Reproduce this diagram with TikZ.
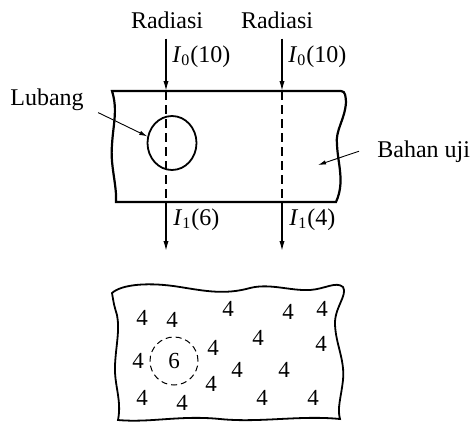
\documentclass[tikz,border=0pt]{standalone}
\usepackage{fontspec}
\setmainfont{Liberation Serif}
\usetikzlibrary{arrows.meta,shapes.geometric}
\begin{document}
\begin{tikzpicture}[x=0.5pt, y=-0.5pt,
  every node/.style={font=\fontsize{12}{14}\selectfont, inner sep=1pt},
  beam/.style={line width=0.7pt, -{Latex[length=5pt,width=2.6pt]}},
  pointer/.style={line width=0.45pt, -{Latex[length=4pt,width=2.2pt]}},
  num/.style={font=\fontsize{11.5}{13}\selectfont}]
  \useasboundingbox (0,0) rectangle (470,423);

  % specimen seen from the side
  \draw[line width=1.1pt] (112,91) -- (341,91) to[out=0,in=95] (346,102)
    .. controls (345,120) and (335,130) .. (337,145)
    .. controls (338,165) and (345,182) .. (336,202)
    -- (116,202)
    .. controls (117,185) and (110,165) .. (112,145)
    .. controls (113,125) and (118,110) .. (112,91) -- cycle;
  \node[draw, ellipse, line width=0.9pt, minimum width=24.5pt, minimum height=27pt,
        inner sep=0pt] (hole) at (172,143) {};

  % two beams
  \node[anchor=base] (rad1) at (167,28) {Radiasi};
  \node[anchor=base] (rad2) at (277,28) {Radiasi};
  \coordinate (in1) at (166,91);  \coordinate (out1) at (166,202);  \coordinate (end1) at (166,251);
  \coordinate (in2) at (282,91);  \coordinate (out2) at (282,202);  \coordinate (end2) at (282,251);
  \draw[beam] ([yshift=-4pt]rad1.south -| in1) -- (in1);
  \draw[beam] ([yshift=-4pt]rad2.south -| in2) -- (in2);
  \draw[line width=0.6pt, dash pattern=on 4.5pt off 2.5pt] (in1) -- (out1);
  \draw[line width=0.6pt, dash pattern=on 4.5pt off 2.5pt] (in2) -- (out2);
  \draw[beam] (out1) -- (end1);
  \draw[beam] (out2) -- (end2);
  \node[anchor=base west] (i0a) at (170,62) {\textit{I}\textsubscript{0}(10)};
  \node[anchor=base west] (i0b) at (286,62) {\textit{I}\textsubscript{0}(10)};
  \node[anchor=base west] (i1a) at (171,225) {\textit{I}\textsubscript{1}(6)};
  \node[anchor=base west] (i1b) at (287,225) {\textit{I}\textsubscript{1}(4)};

  % labels with pointers
  \node[anchor=base west] (lubang) at (8,105) {Lubang};
  \draw[pointer] ([xshift=6pt]lubang.south east) -- (hole.165);
  \node[anchor=base west] (bahan) at (375,157) {Bahan uji};
  \coordinate (mat) at (318,165);
  \draw[pointer] ([xshift=-8pt]bahan.west) -- (mat);

  % film image
  \draw[line width=0.9pt] (112,293)
    .. controls (122,284) and (150,282) .. (180,287)
    .. controls (205,291) and (225,295) .. (250,288)
    .. controls (270,283) and (290,291) .. (310,290)
    .. controls (325,289) and (336,281) .. (343,287)
    .. controls (348,295) and (334,308) .. (335,325)
    .. controls (336,345) and (345,360) .. (343,380)
    .. controls (341,398) and (337,408) .. (340,419)
    .. controls (300,415) and (260,423) .. (220,419)
    .. controls (180,415) and (150,423) .. (118,420)
    .. controls (122,400) and (114,385) .. (115,365)
    .. controls (116,345) and (120,330) .. (117,315)
    .. controls (114,305) .. (112,293) -- cycle;
  \node[draw, circle, num, line width=0.5pt, densely dashed, minimum size=24pt,
        inner sep=0pt] (spot) at (174,361) {6};
  \foreach \p [count=\k] in {(142,318),(172,320),(228,309),(288,312),(322,309),
      (258,338),(321,344),(213,348),(138,361),(237,370),(284,370),(211,384),
      (142,398),(182,403),(262,398),(313,398)}
    \node[num] (cnt\k) at \p {4};
\end{tikzpicture}
\end{document}
